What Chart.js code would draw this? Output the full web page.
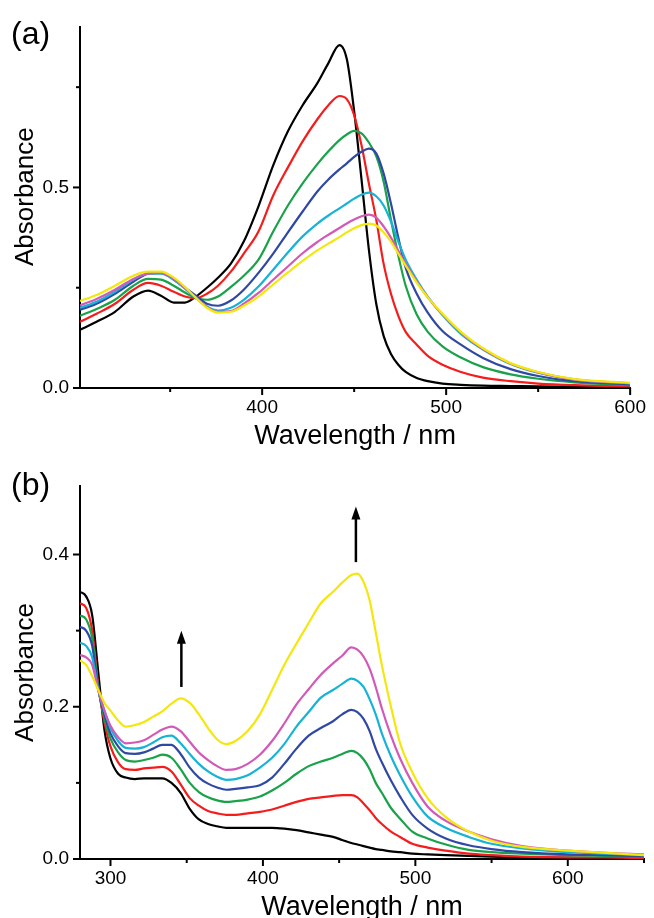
<!DOCTYPE html>
<html>
<head>
<meta charset="utf-8">
<script src="https://cdn.jsdelivr.net/npm/chart.js@4.4.1/dist/chart.umd.min.js"></script>
<style>
  html, body { margin: 0; padding: 0; background: #fff; overflow: hidden; }
  body { width: 654px; height: 918px; position: relative; font-family: "Liberation Sans", Arial, sans-serif; }
  canvas { position: absolute; left: 0; }
  #chartA { top: 0; }
  #chartB { top: 459px; }
  .panel { position: absolute; left: 11px; font-size: 32px; line-height: 32px; color: #000; }
</style>
</head>
<body>
<canvas id="chartA" width="654" height="459"></canvas>
<canvas id="chartB" width="654" height="470"></canvas>
<div class="panel" style="top:17px">(a)</div>
<div class="panel" style="top:468px">(b)</div>
<script>
// ---- panel (a) ----
const wavelengthA = [301, 310, 320, 330, 338, 345, 352, 358, 364, 370, 376, 383, 390, 398, 406, 414, 422, 430, 436, 442,
                     446, 450, 454, 458, 462, 466, 470, 474, 478, 484, 490, 498, 508, 520, 535, 550, 570, 600];
const blackA   = [0.145, 0.165, 0.19, 0.228, 0.243, 0.23, 0.213, 0.213, 0.228, 0.25, 0.275, 0.31, 0.365, 0.453, 0.555, 0.64, 0.705, 0.76, 0.81, 0.855,
                  0.82, 0.69, 0.52, 0.345, 0.21, 0.13, 0.085, 0.058, 0.04, 0.025, 0.017, 0.011, 0.008, 0.006, 0.005, 0.004, 0.003, 0.002];
const redA     = [0.165, 0.185, 0.21, 0.245, 0.262, 0.255, 0.24, 0.228, 0.224, 0.235, 0.255, 0.29, 0.335, 0.39, 0.48, 0.55, 0.615, 0.67, 0.705, 0.728,
                  0.72, 0.68, 0.605, 0.51, 0.42, 0.31, 0.235, 0.18, 0.14, 0.108, 0.08, 0.058, 0.04, 0.026, 0.017, 0.011, 0.007, 0.004];
const greenA   = [0.18, 0.197, 0.22, 0.255, 0.272, 0.27, 0.255, 0.238, 0.224, 0.22, 0.228, 0.252, 0.28, 0.32, 0.39, 0.455, 0.51, 0.558, 0.59, 0.618,
                  0.632, 0.641, 0.635, 0.612, 0.578, 0.515, 0.42, 0.33, 0.255, 0.183, 0.14, 0.104, 0.076, 0.052, 0.034, 0.023, 0.014, 0.007];
const blueA    = [0.195, 0.21, 0.235, 0.265, 0.285, 0.287, 0.27, 0.25, 0.23, 0.21, 0.205, 0.218, 0.245, 0.287, 0.335, 0.388, 0.44, 0.49, 0.52, 0.545,
                  0.56, 0.576, 0.589, 0.597, 0.585, 0.535, 0.46, 0.375, 0.3, 0.235, 0.188, 0.142, 0.108, 0.075, 0.047, 0.03, 0.017, 0.009];
const cyanA    = [0.2, 0.215, 0.24, 0.27, 0.285, 0.285, 0.27, 0.248, 0.225, 0.203, 0.193, 0.2, 0.22, 0.253, 0.295, 0.338, 0.378, 0.41, 0.43, 0.448,
                  0.46, 0.472, 0.482, 0.487, 0.478, 0.455, 0.415, 0.365, 0.32, 0.27, 0.228, 0.182, 0.135, 0.096, 0.06, 0.038, 0.021, 0.011];
const magentaA = [0.206, 0.222, 0.245, 0.272, 0.285, 0.287, 0.272, 0.25, 0.225, 0.202, 0.19, 0.192, 0.21, 0.237, 0.27, 0.303, 0.336, 0.364, 0.382, 0.399,
                  0.41, 0.42, 0.428, 0.432, 0.425, 0.403, 0.375, 0.342, 0.31, 0.265, 0.226, 0.183, 0.138, 0.097, 0.061, 0.039, 0.021, 0.012];
const yellowA  = [0.217, 0.232, 0.255, 0.28, 0.29, 0.29, 0.275, 0.252, 0.225, 0.2, 0.188, 0.19, 0.205, 0.228, 0.258, 0.288, 0.317, 0.343, 0.36, 0.376,
                  0.388, 0.398, 0.406, 0.41, 0.405, 0.388, 0.365, 0.335, 0.305, 0.263, 0.226, 0.185, 0.14, 0.099, 0.062, 0.04, 0.022, 0.013];
const xTicksA = [350, 400, 450, 500, 550, 600];
const xLabelsA = [400, 500, 600];
const yTicksA = [0, 0.25, 0.5, 0.75];
const yLabelsA = [0, 0.5];

// ---- panel (b) ----
const wavelengthB = [280, 284, 288, 292, 296, 300, 305, 310, 316, 322, 328, 334, 340, 346, 352, 358, 364, 370, 376, 382, 390, 398, 406,
                     414, 422, 430, 438, 446, 452, 458, 462, 466, 470, 474, 478, 484, 490, 498, 508, 520, 535, 550, 570, 600, 625, 650];
const blackB   = [0.351, 0.345, 0.32, 0.245, 0.17, 0.132, 0.112, 0.107, 0.105, 0.106, 0.106, 0.106, 0.1, 0.087, 0.066, 0.052, 0.046, 0.043, 0.041, 0.041, 0.041, 0.041, 0.041,
                  0.04, 0.038, 0.035, 0.032, 0.029, 0.025, 0.021, 0.019, 0.017, 0.015, 0.013, 0.012, 0.01, 0.009, 0.007, 0.006, 0.005, 0.004, 0.003, 0.002, 0.002, 0.001, 0.001];
const redB     = [0.336, 0.33, 0.3, 0.228, 0.18, 0.148, 0.127, 0.118, 0.117, 0.119, 0.12, 0.121, 0.115, 0.098, 0.08, 0.07, 0.063, 0.06, 0.058, 0.058, 0.06, 0.062, 0.065,
                  0.07, 0.075, 0.079, 0.081, 0.083, 0.084, 0.084, 0.081, 0.073, 0.064, 0.054, 0.046, 0.036, 0.029, 0.02, 0.015, 0.011, 0.007, 0.005, 0.003, 0.002, 0.002, 0.001];
const greenB   = [0.32, 0.315, 0.29, 0.225, 0.185, 0.158, 0.14, 0.13, 0.128, 0.13, 0.133, 0.137, 0.133, 0.118, 0.1, 0.088, 0.081, 0.077, 0.075, 0.076, 0.078, 0.082, 0.09,
                  0.1, 0.112, 0.122, 0.128, 0.133, 0.138, 0.142, 0.139, 0.131, 0.118, 0.1, 0.087, 0.067, 0.053, 0.036, 0.027, 0.019, 0.012, 0.009, 0.007, 0.005, 0.004, 0.003];
const blueB    = [0.305, 0.3, 0.28, 0.223, 0.19, 0.165, 0.148, 0.139, 0.138, 0.14, 0.145, 0.15, 0.15, 0.138, 0.12, 0.107, 0.099, 0.094, 0.091, 0.092, 0.094, 0.097, 0.107,
                  0.125, 0.145, 0.162, 0.172, 0.181, 0.19, 0.196, 0.193, 0.184, 0.168, 0.145, 0.127, 0.103, 0.082, 0.058, 0.04, 0.027, 0.018, 0.013, 0.009, 0.006, 0.005, 0.004];
const cyanB    = [0.284, 0.28, 0.265, 0.222, 0.195, 0.172, 0.155, 0.146, 0.145, 0.147, 0.153, 0.16, 0.162, 0.152, 0.138, 0.125, 0.115, 0.108, 0.104, 0.105, 0.11, 0.12, 0.133,
                  0.151, 0.174, 0.193, 0.212, 0.222, 0.23, 0.237, 0.234, 0.226, 0.21, 0.19, 0.165, 0.135, 0.11, 0.082, 0.056, 0.041, 0.029, 0.02, 0.014, 0.009, 0.007, 0.005];
const magentaB = [0.268, 0.265, 0.255, 0.222, 0.195, 0.175, 0.16, 0.152, 0.153, 0.156, 0.163, 0.17, 0.174, 0.168, 0.154, 0.14, 0.13, 0.122, 0.117, 0.118, 0.125, 0.137, 0.155,
                  0.178, 0.203, 0.223, 0.242, 0.257, 0.267, 0.278, 0.275, 0.266, 0.25, 0.226, 0.198, 0.162, 0.132, 0.1, 0.069, 0.05, 0.036, 0.026, 0.017, 0.011, 0.008, 0.006];
const yellowB  = [0.261, 0.255, 0.24, 0.222, 0.205, 0.195, 0.182, 0.174, 0.176, 0.18, 0.187, 0.194, 0.204, 0.211, 0.205, 0.19, 0.172, 0.157, 0.151, 0.155, 0.168, 0.19, 0.222,
                  0.255, 0.283, 0.31, 0.336, 0.351, 0.363, 0.373, 0.375, 0.364, 0.34, 0.298, 0.255, 0.2, 0.152, 0.114, 0.08, 0.055, 0.036, 0.024, 0.016, 0.011, 0.008, 0.005];
const xTicksB = [300, 350, 400, 450, 500, 550, 600, 650];
const xLabelsB = [300, 400, 500, 600];
const yTicksB = [0, 0.1, 0.2, 0.3, 0.4];
const yLabelsB = [0, 0.2, 0.4];
// arrows in data units: wavelength, absorbance from -> to
const arrowsB = [
  { x: 346.5, from: 0.226, to: 0.300 },
  { x: 461, from: 0.39, to: 0.463 }
];

const colors = ["#000000", "#f51c1c", "#19a24a", "#2f48a4", "#17b3d6", "#d25ab7", "#f3e70b"];
const FONT = "'Liberation Sans', Arial, sans-serif";

function buildSets(wl, series) {
  return series.map((vals, i) => ({
    data: vals.map((v, k) => ({ x: wl[k], y: v })),
    borderColor: colors[i],
    borderWidth: 2.2,
    pointRadius: 0,
    cubicInterpolationMode: "monotone",
    fill: false,
    order: series.length - i
  }));
}

const tickMarks = {
  id: "tickMarks",
  afterDraw(chart, args, opts) {
    const { ctx, scales: { x, y } } = chart;
    ctx.save();
    ctx.strokeStyle = "#000";
    ctx.lineWidth = 2;
    x.ticks.forEach(t => {
      const px = x.getPixelForValue(t.value);
      const len = opts.xMajor.includes(t.value) ? 7 : 4;
      ctx.beginPath(); ctx.moveTo(px, x.top); ctx.lineTo(px, x.top + len); ctx.stroke();
    });
    y.ticks.forEach(t => {
      const py = y.getPixelForValue(t.value);
      const len = opts.yMajor.includes(t.value) ? 7 : 4;
      ctx.beginPath(); ctx.moveTo(y.right, py); ctx.lineTo(y.right - len, py); ctx.stroke();
    });
    ctx.restore();
  }
};

const arrows = {
  id: "arrows",
  afterDraw(chart, args, opts) {
    if (!opts.items) return;
    const { ctx, scales: { x, y } } = chart;
    ctx.save();
    ctx.strokeStyle = "#000";
    ctx.fillStyle = "#000";
    ctx.lineWidth = 2.5;
    opts.items.forEach(a => {
      const px = x.getPixelForValue(a.x);
      const y0 = y.getPixelForValue(a.from);
      const y1 = y.getPixelForValue(a.to);
      ctx.beginPath(); ctx.moveTo(px, y0); ctx.lineTo(px, y1 + 10); ctx.stroke();
      ctx.beginPath();
      ctx.moveTo(px, y1); ctx.lineTo(px - 4.5, y1 + 13); ctx.lineTo(px + 4.5, y1 + 13);
      ctx.closePath(); ctx.fill();
    });
    ctx.restore();
  }
};

function makeChart(id, cfg) {
  return new Chart(document.getElementById(id), {
    type: "line",
    data: { datasets: buildSets(cfg.wl, cfg.series) },
    plugins: [tickMarks, arrows],
    options: {
      responsive: false,
      animation: false,
      devicePixelRatio: 1,
      layout: { padding: { left: 0, top: 27, right: cfg.padRight, bottom: 0 } },
      plugins: {
        legend: { display: false },
        tooltip: { enabled: false },
        tickMarks: { xMajor: cfg.xLabels, yMajor: cfg.yLabels },
        arrows: { items: cfg.arrows }
      },
      scales: {
        x: {
          type: "linear",
          min: cfg.xMin, max: cfg.xMax,
          afterBuildTicks: s => { s.ticks = cfg.xTicks.map(v => ({ value: v })); },
          afterFit: s => { s.height = cfg.xHeight; },
          grid: { display: false, drawTicks: false },
          border: { display: true, color: "#000", width: 2 },
          ticks: {
            autoSkip: false, maxRotation: 0, padding: 8, color: "#000",
            font: { family: FONT, size: 19 },
            callback: v => cfg.xLabels.includes(v) ? String(v) : ""
          },
          title: {
            display: true, text: "Wavelength / nm", color: "#000",
            font: { family: FONT, size: 27, lineHeight: 1 },
            padding: { top: 0, bottom: cfg.xTitlePad }
          }
        },
        y: {
          min: 0, max: cfg.yMax,
          afterBuildTicks: s => { s.ticks = cfg.yTicks.map(v => ({ value: v })); },
          afterFit: s => { s.width = 80; },
          grid: { display: false, drawTicks: false },
          border: { display: true, color: "#000", width: 2 },
          ticks: {
            autoSkip: false, padding: 11, color: "#000",
            font: { family: FONT, size: 19 },
            callback: v => cfg.yLabels.includes(v) ? v.toFixed(1) : ""
          },
          title: {
            display: true, text: cfg.yTitle, color: "#000",
            font: { family: FONT, size: 26, lineHeight: 1 },
            padding: { top: 13, bottom: 0 }
          }
        }
      }
    }
  });
}

makeChart("chartA", {
  wl: wavelengthA,
  series: [blackA, redA, greenA, blueA, cyanA, magentaA, yellowA],
  xMin: 301, xMax: 600, yMax: 0.9,
  xTicks: xTicksA, xLabels: xLabelsA, yTicks: yTicksA, yLabels: yLabelsA,
  padRight: 17, xHeight: 71, xTitlePad: 9,
  yTitle: "   Absorbance",
  arrows: null
});

makeChart("chartB", {
  wl: wavelengthB,
  series: [blackB, redB, greenB, blueB, cyanB, magentaB, yellowB],
  xMin: 280, xMax: 650, yMax: 0.49,
  xTicks: xTicksB, xLabels: xLabelsB, yTicks: yTicksB, yLabels: yLabelsB,
  padRight: 10, xHeight: 70, xTitlePad: 8,
  yTitle: "Absorbance",
  arrows: arrowsB
});
</script>
</body>
</html>
